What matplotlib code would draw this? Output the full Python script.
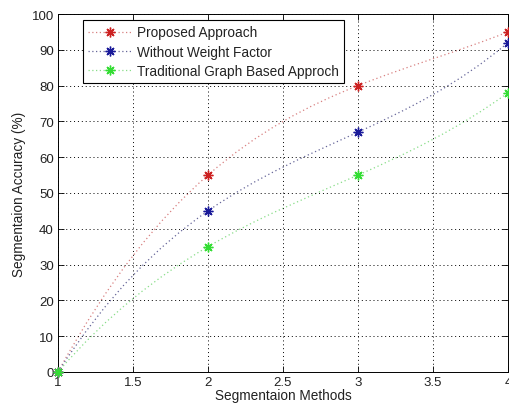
import numpy as np
import matplotlib
matplotlib.use("Agg")
import matplotlib.pyplot as plt
from matplotlib.path import Path
from matplotlib.patches import PathPatch
from matplotlib.lines import Line2D

plt.rcParams['font.family'] = ['Liberation Sans', 'DejaVu Sans']

methods = [1, 2, 3, 4]
proposed = [0, 55, 80, 95]
without_weight = [0, 45, 67, 92]
traditional = [0, 35, 55, 78]
labels = ['Proposed Approach', 'Without Weight Factor', 'Traditional Graph Based Approch']
colors = ['#cc2222', '#1a1a99', '#33dd33']
line_colors = ['#d88080', '#666699', '#88dd88']

fig = plt.figure(figsize=(5.09, 4.10), dpi=100)
ax = fig.add_axes([58/509, 37/410, 450/509, 358/410])

def smooth_path(x, y):
    # MATLAB-like spline (not-a-knot on 4 points = interpolating cubic), drawn as Bezier segments
    x = np.asarray(x, float); y = np.asarray(y, float)
    c = np.polyfit(x, y, len(x) - 1)
    dc = np.polyder(c)
    verts = [(x[0], y[0])]
    codes = [Path.MOVETO]
    for i in range(len(x) - 1):
        h = x[i+1] - x[i]
        d0 = np.polyval(dc, x[i]); d1 = np.polyval(dc, x[i+1])
        verts += [(x[i] + h/3, y[i] + h/3*d0), (x[i+1] - h/3, y[i+1] - h/3*d1), (x[i+1], y[i+1])]
        codes += [Path.CURVE4]*3
    return Path(verts, codes)

series = [proposed, without_weight, traditional]
for s, col, lc in zip(series, colors, line_colors):
    patch = PathPatch(smooth_path(methods, s), facecolor='none', edgecolor=lc,
                      linestyle=(0, (1, 2.2)), linewidth=0.9)
    ax.add_patch(patch)
star = (8, 2, 0)
for s, col in zip(series, colors):
    ax.plot(methods, s, linestyle='none', marker=star, color=col, markersize=7,
            markeredgewidth=1.0, clip_on=False, zorder=5)

ax.set_xlim(1, 4)
ax.set_ylim(0, 100)
ax.set_xticks([1, 1.5, 2, 2.5, 3, 3.5, 4])
ax.set_xticklabels(['1', '1.5', '2', '2.5', '3', '3.5', '4'])
ax.set_yticks(range(0, 101, 10))
ax.grid(True, linestyle=(0, (1, 3)), color='black', linewidth=0.7)
ax.tick_params(direction='in', labelsize=9.5, length=4, width=0.6, pad=3,
               top=True, right=True, labelcolor='#222222')
for sp in ax.spines.values():
    sp.set_linewidth(0.7)
ax.set_xlabel('Segmentaion Methods', fontsize=9.8, labelpad=0, color='#222222')
ax.set_ylabel('Segmentaion Accuracy (%)', fontsize=9.8, labelpad=4, color='#222222')

handles = [Line2D([0], [0], color=lc, linestyle=(0, (1, 2)), linewidth=0.9,
                  marker=star, markersize=7, markeredgewidth=1.0,
                  markerfacecolor=c, markeredgecolor=c)
           for c, lc in zip(colors, line_colors)]
leg = ax.legend(handles, labels, loc='upper left', bbox_to_anchor=(25/450, 352/358),
                borderaxespad=0, fancybox=False, framealpha=1, edgecolor='black',
                fontsize=9.8, handlelength=3.1, labelspacing=0.38, borderpad=0.4,
                handletextpad=0.45)
leg.get_frame().set_linewidth(0.8)
for t in leg.get_texts():
    t.set_color('#222222')

fig.savefig('out.png', dpi=100)
